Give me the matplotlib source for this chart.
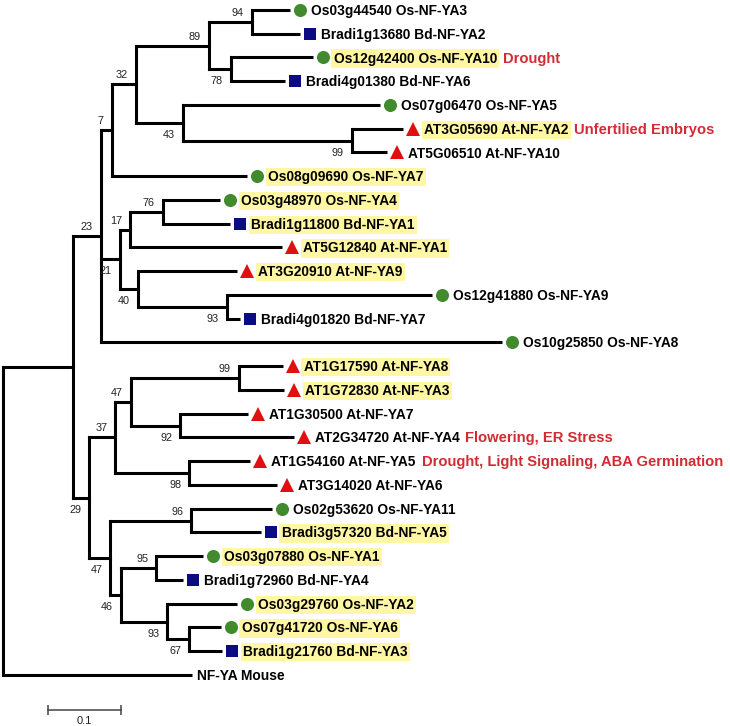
import matplotlib
matplotlib.use("Agg")
import matplotlib.pyplot as plt
from matplotlib.transforms import offset_copy

plt.rcParams['font.family'] = ['Liberation Sans', 'DejaVu Sans']

# NF-YA tree, branch lengths in substitutions/site, bootstrap as node labels
tree_newick = (
    "(((((((Os03g44540:0.052,Bradi1g13680:0.066)94:0.059,"
    "(Os12g42400:0.112,Bradi4g01380:0.074)78:0.030)89:0.100,"
    "(Os07g06470:0.270,(AT3G05690:0.070,AT5G06510:0.048)99:0.232)43:0.064)32:0.033,"
    "Os08g09690:0.185)7:0.015,"
    "(((Os03g48970:0.078,Bradi1g11800:0.092)76:0.045,AT5G12840:0.208)17:0.014,"
    "(AT3G20910:0.136,(Os12g41880:0.281,Bradi4g01820:0.018)93:0.122)40:0.025)21:0.026,"
    "Os10g25850:0.549)23:0.038,"
    "((((AT1G17590:0.060,AT1G72830:0.062)99:0.148,"
    "(AT1G30500:0.093,AT2G34720:0.155)92:0.068)47:0.021,"
    "(AT1G54160:0.084,AT3G14020:0.121)98:0.101)37:0.036,"
    "((Os02g53620:0.111,Bradi3g57320:0.095)96:0.111,"
    "((Os03g07880:0.064,Bradi1g72960:0.037)95:0.049,"
    "(Os03g29760:0.096,(Os07g41720:0.043,Bradi1g21760:0.045)67:0.030)93:0.064)46:0.014)47:0.029)29:0.022"
    "):0.096,NF-YA:0.259);"
)

protein_names = {
    "Os03g44540": "Os-NF-YA3", "Bradi1g13680": "Bd-NF-YA2",
    "Os12g42400": "Os-NF-YA10", "Bradi4g01380": "Bd-NF-YA6",
    "Os07g06470": "Os-NF-YA5", "AT3G05690": "At-NF-YA2",
    "AT5G06510": "At-NF-YA10", "Os08g09690": "Os-NF-YA7",
    "Os03g48970": "Os-NF-YA4", "Bradi1g11800": "Bd-NF-YA1",
    "AT5G12840": "At-NF-YA1", "AT3G20910": "At-NF-YA9",
    "Os12g41880": "Os-NF-YA9", "Bradi4g01820": "Bd-NF-YA7",
    "Os10g25850": "Os-NF-YA8", "AT1G17590": "At-NF-YA8",
    "AT1G72830": "At-NF-YA3", "AT1G30500": "At-NF-YA7",
    "AT2G34720": "At-NF-YA4", "AT1G54160": "At-NF-YA5",
    "AT3G14020": "At-NF-YA6", "Os02g53620": "Os-NF-YA11",
    "Bradi3g57320": "Bd-NF-YA5", "Os03g07880": "Os-NF-YA1",
    "Bradi1g72960": "Bd-NF-YA4", "Os03g29760": "Os-NF-YA2",
    "Os07g41720": "Os-NF-YA6", "Bradi1g21760": "Bd-NF-YA3",
    "NF-YA": "Mouse",
}

highlighted = ["Os12g42400", "AT3G05690", "Os08g09690", "Os03g48970",
               "Bradi1g11800", "AT5G12840", "AT3G20910", "AT1G17590",
               "AT1G72830", "Bradi3g57320", "Os03g07880", "Os03g29760",
               "Os07g41720", "Bradi1g21760"]

functions = {
    "Os12g42400": "Drought",
    "AT3G05690": "Unfertilied Embryos",
    "AT2G34720": "Flowering, ER Stress",
    "AT1G54160": "Drought, Light Signaling, ABA Germination",
}

scale_length = 0.1

# marker per species prefix
species_style = {
    "Os": dict(marker="o", color="#428a2e", ms=9.4),
    "Br": dict(marker="s", color="#0b0b82", ms=8.4),
    "AT": dict(marker="^", color="#e01010", ms=10.5),
}

hl_color = "#fff7a3"
note_color = "#d22b34"


def parse_newick(s):
    pos = 0

    def node():
        nonlocal pos
        children = []
        if s[pos] == "(":
            pos += 1
            while True:
                children.append(node())
                if s[pos] == ",":
                    pos += 1
                    continue
                pos += 1
                break
        start = pos
        while s[pos] not in ":,();":
            pos += 1
        name = s[start:pos]
        length = 0.0
        if s[pos] == ":":
            pos += 1
            start = pos
            while s[pos] not in ",();":
                pos += 1
            length = float(s[start:pos])
        return {"name": name, "length": length, "children": children}

    return node()


root = parse_newick(tree_newick)
tips = []


def layout(n, x0):
    n["x"] = x0 + n["length"]
    if not n["children"]:
        n["y"] = len(tips)
        tips.append(n)
    else:
        for c in n["children"]:
            layout(c, n["x"])
        n["y"] = (n["children"][0]["y"] + n["children"][-1]["y"]) / 2


layout(root, 0.0)

fig = plt.figure(figsize=(7.30, 7.26), dpi=100)
ax = fig.add_axes([0, 0, 1, 1])
ax.set_xlim(-3 / 730, 727 / 730)
ax.set_ylim(716 / 23.75, -10 / 23.75)
ax.axis("off")


def shifted(dx, dy):
    return offset_copy(ax.transData, fig=fig, x=dx, y=dy, units="dots")


lw = 2.2


def draw(n, first=True, is_root=True):
    kids = n["children"]
    if not kids:
        return
    ax.plot([n["x"], n["x"]], [kids[0]["y"], kids[-1]["y"]], color="black",
            lw=lw, solid_capstyle="projecting")
    for i, c in enumerate(kids):
        ax.plot([n["x"], c["x"]], [c["y"], c["y"]], color="black", lw=lw,
                solid_capstyle="butt" if not c["children"] else "projecting")
        draw(c, i == 0, False)
    if n["name"] and not is_root:
        if first:
            ax.text(n["x"], n["y"], n["name"], ha="right", va="center",
                    fontsize=7.8, color="#222222", transform=shifted(-8, 9))
        else:
            ax.text(n["x"], n["y"], n["name"], ha="right", va="center",
                    fontsize=7.8, color="#222222", transform=shifted(-8, -12))


draw(root)

for t in tips:
    gene = t["name"]
    label = gene + " " + protein_names[gene]
    style = species_style.get(gene[:2])
    if style is not None:
        ax.plot(t["x"], t["y"], linestyle="none", marker=style["marker"],
                color=style["color"], ms=style["ms"], mew=0,
                transform=shifted(10, 0))
        dx = 21
    else:
        dx = 5
    box = None
    if gene in highlighted:
        box = dict(boxstyle="square,pad=0.16", fc=hl_color, ec="none")
    txt = ax.text(t["x"], t["y"], label, ha="left", va="baseline",
                  fontsize=9.9, fontweight="bold", bbox=box,
                  transform=shifted(dx, -5))
    if gene in functions:
        ax.annotate(functions[gene], xy=(1, 0.5), xycoords=txt,
                    xytext=(6, 0), textcoords="offset pixels",
                    ha="left", va="center", fontsize=10.6,
                    fontweight="bold", color=note_color)

# scale bar
sb_x0 = 0.062
sb_y = len(tips) + 0.47
ax.plot([sb_x0, sb_x0 + scale_length], [sb_y, sb_y], color="#444444",
        lw=1.1, marker="|", ms=7, mew=1.1)
ax.text(sb_x0 + scale_length / 2, sb_y, str(scale_length), ha="center",
        va="top", fontsize=8, color="#222222", transform=shifted(0, -6))

fig.savefig("out.png", dpi=100)
